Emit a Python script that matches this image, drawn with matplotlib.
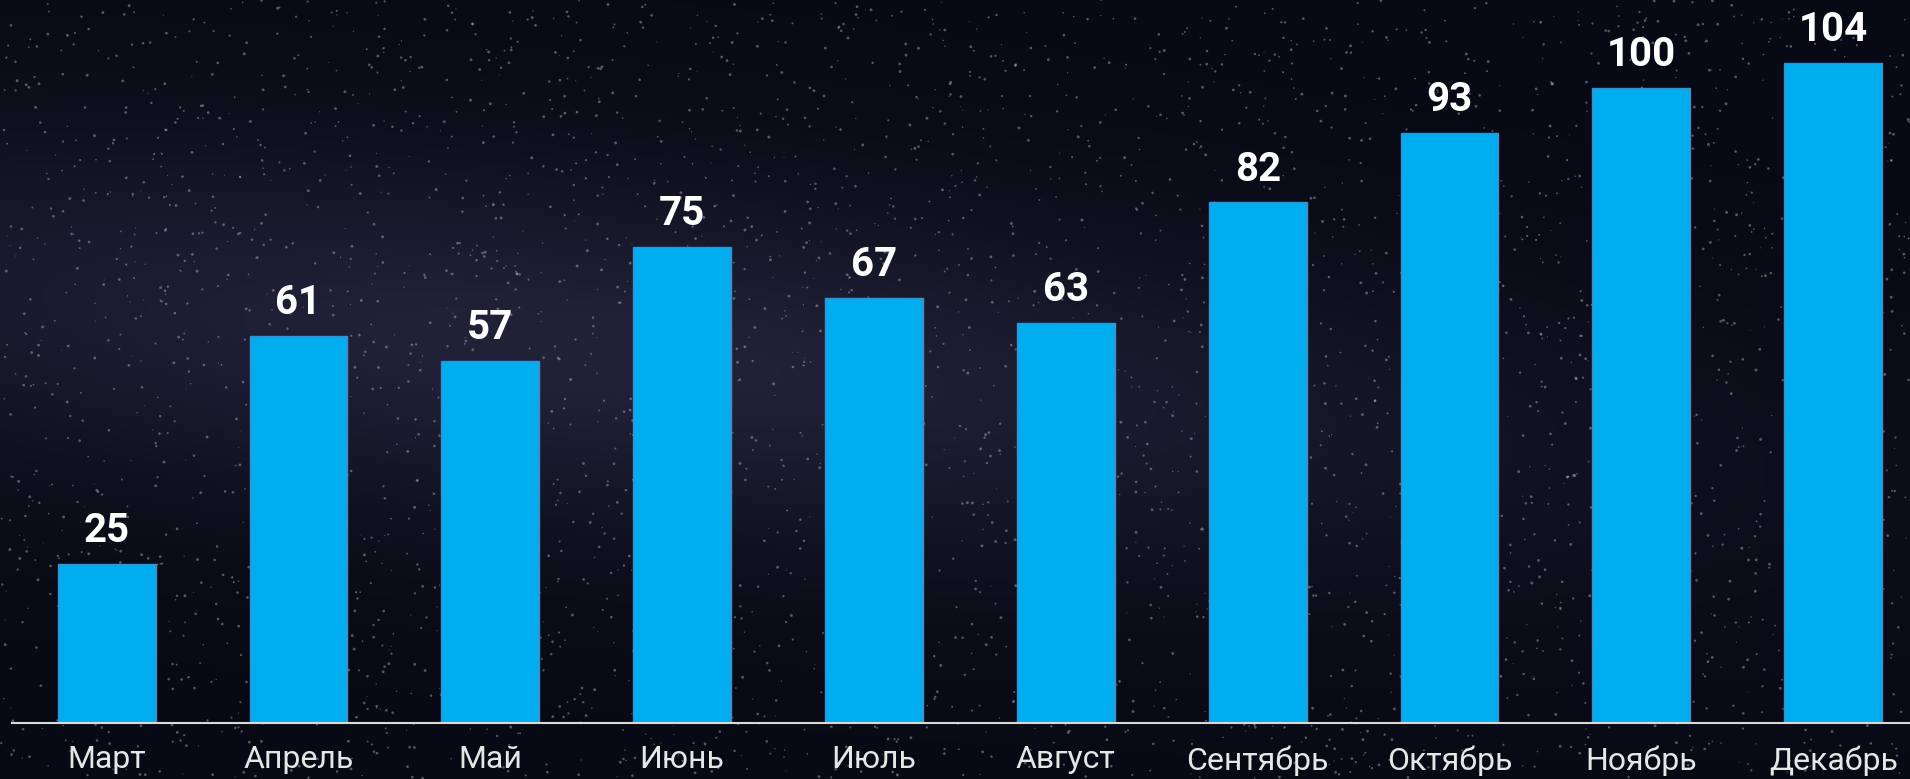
import numpy as np
import matplotlib
matplotlib.use("Agg")
import matplotlib.pyplot as plt

# data
months = ["Март", "Апрель", "Май", "Июнь", "Июль", "Август",
          "Сентябрь", "Октябрь", "Ноябрь", "Декабрь"]
values = [25, 61, 57, 75, 67, 63, 82, 93, 100, 104]

plt.rcParams["font.family"] = ["Roboto", "DejaVu Sans"]

fig = plt.figure(figsize=(19.1, 7.79), dpi=100)

# night-sky background
bg = fig.add_axes([0, 0, 1, 1])
yy, xx = np.mgrid[0:1:200j, 0:1:400j]
glow = np.exp(-((yy - 0.45 - 0.25 * (xx - 0.3)) ** 2) / 0.05) * np.exp(-((xx - 0.3) ** 2) / 0.25)
base = np.array([0.03, 0.04, 0.08])
tint = np.array([0.13, 0.13, 0.22])
img = base[None, None, :] + glow[..., None] * (tint - base)[None, None, :]
bg.imshow(img, extent=[0, 1, 0, 1], aspect="auto", origin="upper")
rng = np.random.default_rng(7)
sx, sy = rng.random(4000), rng.random(4000)
bg.scatter(sx, sy, s=rng.random(4000) * 4 + 0.4, c="#c8cde0",
           alpha=0.4, linewidths=0)
bg.set_xlim(0, 1)
bg.set_ylim(0, 1)
bg.axis("off")

ax = fig.add_axes([12 / 1910, 56 / 779, 1 - 12 / 1910, 723 / 779])
ax.patch.set_alpha(0)
x = np.arange(len(months))
bars = ax.bar(x, values, width=0.51, color="#00aeef",
              edgecolor="#4f86c6", linewidth=1)
for b, v in zip(bars, values):
    ax.annotate(str(v), (b.get_x() + b.get_width() / 2, v),
                xytext=(0, 10), textcoords="offset points",
                ha="center", va="bottom", color="white",
                fontsize=29, fontweight="bold")

ax.set_xlim(-0.493, 9.40)
ax.set_ylim(0, 113.9)
ax.set_xticks(x)
ax.set_xticklabels(months, fontsize=23, color="#e6e6e6")
ax.tick_params(axis="x", length=0, pad=16)
ax.set_yticks([])
for s in ["top", "left", "right"]:
    ax.spines[s].set_visible(False)
ax.spines["bottom"].set_color("#d9d9d9")
ax.spines["bottom"].set_linewidth(1.5)

fig.savefig("out.png", dpi=100)
